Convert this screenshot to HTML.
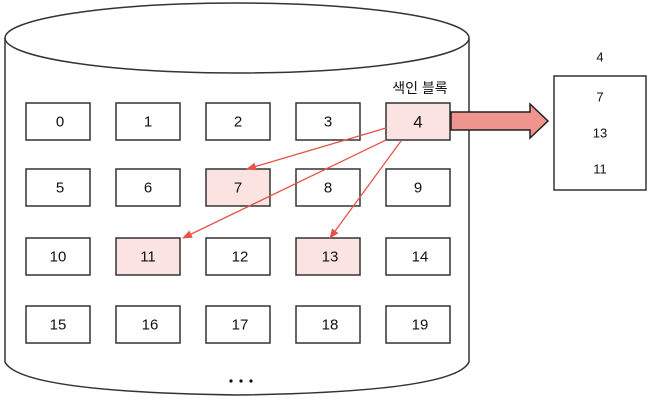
<!DOCTYPE html>
<html><head><style>
body{margin:0;background:#fff;}
svg{display:block;}
text{font-family:"Liberation Sans","Noto Sans CJK KR",sans-serif;font-size:15px;fill:#111;text-anchor:middle;dominant-baseline:central;}
</style></head><body>
<svg width="650" height="401" viewBox="0 0 650 401">
<defs><marker id="a" markerWidth="10" markerHeight="8" refX="9" refY="4" orient="auto" markerUnits="userSpaceOnUse"><path d="M0,0 L10,4 L0,8 Z" fill="#e5534b"/></marker></defs>
<g fill="none" stroke="#333" stroke-width="1.5">
<ellipse cx="237" cy="38" rx="232" ry="35" fill="#fff"/>
<path d="M5,38 L5,362 Q20,392 237,395 Q455,392 469,362 L469,38"/>
</g>
<g stroke="#333" stroke-width="1.5">
<rect x="26" y="103" width="64" height="37" fill="#fff"/>
<rect x="116" y="103" width="64" height="37" fill="#fff"/>
<rect x="206" y="103" width="64" height="37" fill="#fff"/>
<rect x="296" y="103" width="64" height="37" fill="#fff"/>
<rect x="386" y="103" width="64" height="37" fill="#fbe3e1"/>
<rect x="26" y="169" width="64" height="37" fill="#fff"/>
<rect x="116" y="169" width="64" height="37" fill="#fff"/>
<rect x="206" y="169" width="64" height="37" fill="#fbe3e1"/>
<rect x="296" y="169" width="64" height="37" fill="#fff"/>
<rect x="386" y="169" width="64" height="37" fill="#fff"/>
<rect x="26" y="238" width="64" height="37" fill="#fff"/>
<rect x="116" y="238" width="64" height="37" fill="#fbe3e1"/>
<rect x="206" y="238" width="64" height="37" fill="#fff"/>
<rect x="296" y="238" width="64" height="37" fill="#fbe3e1"/>
<rect x="386" y="238" width="64" height="37" fill="#fff"/>
<rect x="26" y="306" width="64" height="37" fill="#fff"/>
<rect x="116" y="306" width="64" height="37" fill="#fff"/>
<rect x="206" y="306" width="64" height="37" fill="#fff"/>
<rect x="296" y="306" width="64" height="37" fill="#fff"/>
<rect x="386" y="306" width="64" height="37" fill="#fff"/>
<rect x="554" y="76" width="92" height="114" fill="#fff"/>
</g>
<path d="M451,112 L530,112 L530,104 L548,121 L530,138 L530,130 L451,130 Z" fill="#ef948f" stroke="#222" stroke-width="1.5"/>
<g stroke="#e5534b" stroke-width="1.3" fill="none" marker-end="url(#a)">
<line x1="386" y1="128" x2="247" y2="169"/>
<line x1="386" y1="140" x2="183" y2="238"/>
<line x1="401" y1="141" x2="330" y2="238"/>
</g>
<text x="60" y="122">0</text><text x="148" y="122">1</text><text x="238" y="122">2</text><text x="328" y="122">3</text><text x="418" y="122" style="font-size:17px">4</text>
<text x="60" y="188">5</text><text x="148" y="188">6</text><text x="238" y="188">7</text><text x="328" y="188">8</text><text x="418" y="188">9</text>
<text x="58" y="257">10</text><text x="148" y="257">11</text><text x="240" y="257">12</text><text x="330" y="257">13</text><text x="420" y="257">14</text>
<text x="58" y="325">15</text><text x="150" y="325">16</text><text x="240" y="325">17</text><text x="330" y="325">18</text><text x="420" y="325">19</text>
<text x="420" y="88" style="font-size:14px">색인 블록</text>
<text x="600" y="57" style="font-size:13px">4</text>
<text x="600" y="97" style="font-size:13px">7</text>
<text x="600" y="133" style="font-size:13px">13</text>
<text x="600" y="169" style="font-size:13px">11</text>
<g fill="#111"><circle cx="231" cy="381" r="1.6"/><circle cx="241" cy="381" r="1.6"/><circle cx="251" cy="381" r="1.6"/></g>
</svg>
</body></html>
